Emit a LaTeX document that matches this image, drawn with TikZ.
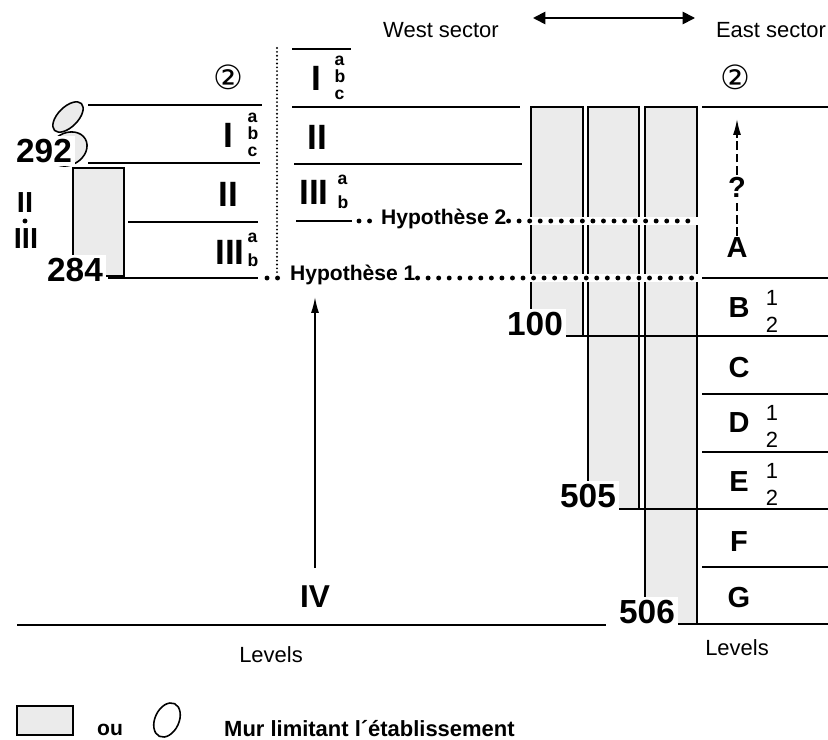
\documentclass[tikz,border=0pt]{standalone}
\usepackage{fontspec}
\setmainfont{Liberation Sans}
\newfontfamily\symfont{DejaVu Sans}
\usepackage{tikz}
\usetikzlibrary{arrows.meta, positioning}
\definecolor{wallgray}{HTML}{EBEBEB}
\newcommand{\fs}[1]{\fontsize{#1}{#1}\selectfont}
\tikzset{
  lvl/.style={line width=1.1pt},
  wall/.style={draw, line width=0.9pt, fill=wallgray},
  roman/.style={font=\fs{20}\bfseries, inner sep=1pt},
  num/.style={font=\fs{19}\bfseries, fill=white, inner sep=2pt},
  letter/.style={font=\fs{16.5}\bfseries, inner sep=1pt},
  sub/.style={font=\fontsize{10}{9.6}\selectfont\bfseries, align=left, inner sep=0pt},
  frac/.style={font=\fontsize{12.5}{15.4}\selectfont, align=left, inner sep=0pt},
  hyp/.style={font=\fs{12}\bfseries, inner sep=1pt},
  hypdots/.style={line width=2.8pt, dash pattern=on 0pt off 6pt, line cap=round},
  caption/.style={font=\fs{12.5}},
  circ/.style={font=\symfont\fs{19}},
  upar/.style={-{Latex[length=9pt,width=4.5pt]}, line width=0.9pt},
}

\begin{document}
\begin{tikzpicture}[x=0.02cm, y=-0.02cm,
  qdash/.style={line width=0.9pt, dash pattern=on 5pt off 2pt}]
\useasboundingbox (0,0) rectangle (828,740);
% headings
\node[caption] (west) at (441,30) {West sector};
\node[caption] (east) at (771,30) {East sector};
\coordinate (wa) at (533,18);
\coordinate (ea) at (695,18);
\draw[{Triangle[length=7pt,width=7pt]}-{Triangle[length=7pt,width=7pt]}, line width=1pt] (wa) -- (ea);
\node[circ] (c2w) at (228,77) {②};
\node[circ] (c2e) at (735,77) {②};

% walls
\draw[wall] (73,168) rectangle (124,276);
\draw[wall] (68,117) ellipse [x radius=0.38cm, y radius=0.2cm, rotate=45];
\draw[wall] (68,149) ellipse [x radius=0.4cm, y radius=0.32cm, rotate=30];
\draw[wall] (531,107) rectangle (583,336);
\draw[wall] (588,107) rectangle (639,509);
\draw[wall] (645,107) rectangle (697,624);

% levels, west sector
\draw[lvl] (88,105) -- (262,105);
\draw[lvl] (88,163) -- (260,163);
\draw[lvl] (128,222) -- (258,222);
\draw[lvl] (108,278) -- (258,278);
\draw[lvl] (292,49) -- (351,49);
\draw[lvl] (292,107) -- (520,107);
\draw[lvl] (294,164) -- (522,164);
\draw[lvl] (296,221) -- (352,221);
\draw[lvl] (17,625) -- (606,625);
\draw[line width=1.2pt, dash pattern=on 0pt off 2.2pt, line cap=round] (277,48) -- (277,273);

% levels, east sector
\foreach \y in {107,278,394,452,567}
  \draw[lvl] (702,\y) -- (828,\y);
\draw[lvl] (565,336) -- (828,336);
\draw[lvl] (620,509) -- (828,509);
\draw[lvl] (678,624) -- (828,624);

% west labels
\node[roman] (wI) at (228,135) {I};
\node[sub] at (253,135) {a\\b\\c};
\node[roman] (wII) at (228,194) {II};
\node[roman] (wIII) at (230,252) {III};
\node[sub] at (253,250) {a\\[4pt]b};
\node[num] (n292) at (44,151) {292};
\node[num] (n284) at (75,270) {284};
\node[roman, font=\fs{16.5}\bfseries] (sII) at (25,203) {II};
\fill (25,221) circle (1.4pt);
\node[roman, font=\fs{16.5}\bfseries] (sIII) at (26,239) {III};
\node[roman] (mI) at (316,78) {I};
\node[sub] at (340,78) {a\\b\\c};
\node[roman] (mII) at (317,137) {II};
\node[roman] (mIII) at (314,192) {III};
\node[sub] at (343,192) {a\\[4pt]b};

% hypotheses
\node[hyp, anchor=west] (h1) at (288,275) {Hypothèse 1};
\node[hyp, anchor=west] (h2) at (379,219) {Hypothèse 2};
\coordinate (h1l) at (267,278);
\coordinate (h1r) at (698,278);
\coordinate (h2l) at (359,221);
\coordinate (h2r) at (698,221);
\draw[white, line width=5pt] (527,278) -- (h1r);
\draw[white, line width=5pt] (527,221) -- (h2r);
\draw[hypdots] (h1l) -- (h1.west |- h1l);
\draw[hypdots] (h1.east |- h1r) -- (h1r);
\draw[hypdots] (h2l) -- (h2.west |- h2l);
\draw[hypdots] (h2.east |- h2r) -- (h2r);

% east labels
\node[letter] (q) at (737,187) {?};
\node[letter] (A) at (737,248) {A};
\coordinate (qtip) at (737,119);
\draw[qdash] (A.north) -- (q.south);
\draw[qdash, upar] (q.north) -- (qtip);
\node[letter] (B) at (739,308) {B};
\node[frac] at (772,311) {1\\2};
\node[letter] (C) at (739,368) {C};
\node[letter] (D) at (739,423) {D};
\node[frac] at (772,426) {1\\2};
\node[letter] (E) at (739,482) {E};
\node[frac] at (772,484) {1\\2};
\node[letter] (F) at (739,542) {F};
\node[letter] (G) at (739,598) {G};
\node[num] (n100) at (535,324) {100};
\node[num] (n505) at (588,496) {505};
\node[num] (n506) at (647,612) {506};

% level IV
\node[roman, font=\fs{18}\bfseries] (iv) at (315,597) {IV};
\coordinate (ivtip) at (315,297);
\draw[upar, shorten <=9pt] (iv.north) -- (ivtip);
\node[caption] (levW) at (271,655) {Levels};
\node[caption] (levE) at (737,648) {Levels};

% legend
\draw[wall] (17,706) rectangle (73,735);
\node[font=\fs{12}\bfseries] (ou) at (110,730) {ou};
\draw[wall, fill=white] (167,720) ellipse [x radius=0.24cm, y radius=0.36cm, rotate=-25];
\node[font=\fs{12.5}\bfseries, anchor=west] (mur) at (218,729) {Mur limitant l´établissement};
\end{tikzpicture}
\end{document}
